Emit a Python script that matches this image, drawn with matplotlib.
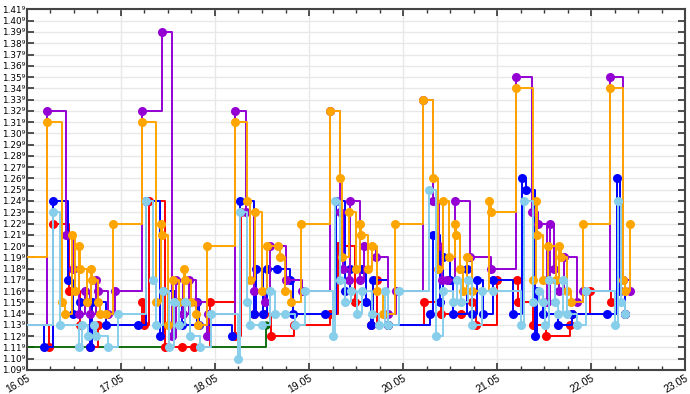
import matplotlib
matplotlib.use("Agg")
import matplotlib.pyplot as plt
import matplotlib.dates as mdates
from datetime import datetime, timedelta

# time in days (16.0 = 16.05 00:00), values
green_t = [15.9, 18.54, 18.57]
green_v = [1.11, 1.13, 1.13]

red_t = [15.9, 16.23, 16.28, 16.45, 16.56, 16.67, 16.76, 17.22, 17.24, 17.30, 17.47, 17.65, 17.78, 17.95,
         18.21, 18.28, 18.42, 18.52, 18.60, 18.84, 19.22, 19.31, 19.49, 19.66, 19.72, 19.84,
         20.22, 20.40, 20.62, 20.73, 20.78, 21.00, 21.21, 21.22, 21.38, 21.52, 21.78, 21.80, 21.99, 22.21, 22.36]
red_v = [1.13, 1.11, 1.22, 1.16, 1.13, 1.11, 1.13, 1.15, 1.13, 1.24, 1.11, 1.11, 1.11, 1.15,
         1.12, 1.23, 1.14, 1.14, 1.12, 1.13, 1.14, 1.20, 1.15, 1.13, 1.17, 1.13,
         1.15, 1.14, 1.14, 1.15, 1.13, 1.17, 1.17, 1.15, 1.13, 1.12, 1.13, 1.14, 1.16, 1.15, 1.14]

blue_t = [15.9, 16.18, 16.28, 16.44, 16.49, 16.56, 16.67, 16.69, 16.84, 17.18, 17.27, 17.42, 17.45, 17.58,
          17.65, 17.81, 17.83, 18.18, 18.27, 18.41, 18.44, 18.51, 18.55, 18.66, 18.80, 18.83,
          19.17, 19.29, 19.38, 19.44, 19.56, 19.61, 19.66, 19.68, 19.84,
          20.29, 20.32, 20.39, 20.43, 20.50, 20.53, 20.68, 20.73, 20.79, 20.85, 20.96,
          21.17, 21.27, 21.31, 21.40, 21.42, 21.49, 21.65, 21.80, 22.17, 22.27, 22.31, 22.36]
blue_v = [1.13, 1.11, 1.24, 1.17, 1.14, 1.15, 1.11, 1.15, 1.13, 1.13, 1.24, 1.12, 1.16, 1.15,
          1.13, 1.15, 1.13, 1.12, 1.24, 1.14, 1.18, 1.14, 1.18, 1.18, 1.17, 1.14,
          1.14, 1.24, 1.16, 1.18, 1.18, 1.15, 1.13, 1.17, 1.13,
          1.14, 1.21, 1.15, 1.19, 1.17, 1.14, 1.18, 1.14, 1.17, 1.14, 1.17,
          1.14, 1.26, 1.25, 1.12, 1.16, 1.14, 1.13, 1.14, 1.14, 1.26, 1.16, 1.14]

lightblue_t = [15.9, 16.28, 16.35, 16.55, 16.59, 16.65, 16.71, 16.73, 16.86, 16.97,
               17.27, 17.34, 17.37, 17.45, 17.51, 17.56, 17.62, 17.68, 17.73, 17.84, 17.96,
               18.25, 18.27, 18.34, 18.37, 18.50, 18.58, 18.64, 18.74, 18.85, 18.96,
               19.26, 19.28, 19.33, 19.38, 19.45, 19.51, 19.56, 19.67, 19.74, 19.81, 19.84, 19.96,
               20.28, 20.35, 20.43, 20.53, 20.57, 20.62, 20.69, 20.73, 20.84, 20.96,
               21.25, 21.29, 21.38, 21.45, 21.49, 21.51, 21.55, 21.62, 21.65, 21.70, 21.74, 21.85, 21.95,
               22.25, 22.29, 22.32, 22.36]
lightblue_v = [1.13, 1.23, 1.13, 1.11, 1.13, 1.12, 1.13, 1.12, 1.11, 1.14,
               1.24, 1.17, 1.13, 1.16, 1.11, 1.15, 1.13, 1.15, 1.12, 1.11, 1.14,
               1.10, 1.23, 1.15, 1.13, 1.13, 1.16, 1.14, 1.14, 1.13, 1.16,
               1.12, 1.24, 1.17, 1.15, 1.16, 1.14, 1.16, 1.14, 1.13, 1.16, 1.13, 1.16,
               1.25, 1.12, 1.16, 1.15, 1.17, 1.15, 1.17, 1.13, 1.16, 1.16,
               1.13, 1.24, 1.15, 1.16, 1.15, 1.13, 1.17, 1.15, 1.14, 1.17, 1.14, 1.13, 1.16,
               1.13, 1.24, 1.15, 1.14]

purple_t = [15.9, 16.21, 16.42, 16.49, 16.55, 16.62, 16.67, 16.73, 16.76, 16.86, 16.94,
            17.22, 17.44, 17.54, 17.59, 17.66, 17.72, 17.80, 17.92, 17.93,
            18.21, 18.33, 18.41, 18.53, 18.59, 18.76, 18.93,
            19.22, 19.33, 19.36, 19.42, 19.44, 19.54, 19.58, 19.71, 19.84, 19.93,
            20.21, 20.32, 20.38, 20.41, 20.47, 20.55, 20.71, 20.93,
            21.20, 21.37, 21.43, 21.53, 21.56, 21.61, 21.66, 21.71, 21.85, 21.91,
            22.20, 22.34, 22.41]
purple_v = [1.13, 1.32, 1.21, 1.18, 1.14, 1.16, 1.14, 1.17, 1.16, 1.14, 1.16,
            1.32, 1.39, 1.12, 1.17, 1.14, 1.17, 1.15, 1.12, 1.14,
            1.32, 1.23, 1.16, 1.15, 1.20, 1.17, 1.16,
            1.32, 1.23, 1.18, 1.17, 1.24, 1.17, 1.20, 1.19, 1.14, 1.16,
            1.33, 1.24, 1.20, 1.17, 1.17, 1.24, 1.19, 1.18,
            1.35, 1.23, 1.22, 1.15, 1.22, 1.18, 1.16, 1.19, 1.15, 1.16,
            1.35, 1.17, 1.16]

orange_t = [15.9, 16.21, 16.37, 16.40, 16.48, 16.51, 16.55, 16.56, 16.64, 16.68, 16.69, 16.76, 16.78, 16.84, 16.92,
            17.22, 17.37, 17.43, 17.44, 17.50, 17.55, 17.62, 17.67, 17.68, 17.74, 17.80, 17.82, 17.92,
            18.21, 18.34, 18.37, 18.43, 18.50, 18.55, 18.67, 18.69, 18.74, 18.81, 18.92,
            19.22, 19.33, 19.35, 19.42, 19.50, 19.54, 19.55, 19.63, 19.67, 19.72, 19.79, 19.91,
            20.21, 20.32, 20.37, 20.42, 20.49, 20.55, 20.56, 20.61, 20.64, 20.68, 20.73, 20.91, 20.93,
            21.20, 21.38, 21.41, 21.42, 21.49, 21.54, 21.63, 21.66, 21.68, 21.74, 21.79, 21.91,
            22.20, 22.34, 22.36, 22.41]
orange_v = [1.19, 1.31, 1.15, 1.14, 1.21, 1.16, 1.20, 1.18, 1.15, 1.18, 1.17, 1.15, 1.14, 1.14, 1.22,
            1.31, 1.15, 1.22, 1.21, 1.13, 1.17, 1.15, 1.18, 1.17, 1.15, 1.14, 1.13, 1.20,
            1.31, 1.24, 1.17, 1.23, 1.16, 1.20, 1.20, 1.19, 1.16, 1.15, 1.22,
            1.32, 1.26, 1.19, 1.23, 1.18, 1.22, 1.21, 1.18, 1.20, 1.16, 1.14, 1.22,
            1.33, 1.26, 1.18, 1.24, 1.19, 1.22, 1.21, 1.18, 1.16, 1.19, 1.16, 1.24, 1.23,
            1.34, 1.17, 1.24, 1.21, 1.17, 1.20, 1.17, 1.20, 1.19, 1.16, 1.15, 1.22,
            1.34, 1.17, 1.16, 1.22]

y_ticks = [round(1.09 + 0.01 * i, 2) for i in range(33)]

base = datetime(2024, 5, 16)


def to_dates(ts):
    return [base + timedelta(days=t - 16) for t in ts]


plt.rcParams['font.family'] = ['Liberation Sans', 'DejaVu Sans']
fig = plt.figure(figsize=(6.9, 3.94), dpi=100)
ax = fig.add_axes([0.039, 0.061, 0.954, 0.915])

ax.plot(to_dates(green_t), green_v, drawstyle='steps-post', color='#006400', lw=1.3,
        marker='o', ms=5, markevery=[1], zorder=2)
series = [
    (red_t, red_v, '#ff0000'),
    (blue_t, blue_v, '#0000ff'),
    (purple_t, purple_v, '#9400d3'),
    (orange_t, orange_v, '#ffa500'),
    (lightblue_t, lightblue_v, '#87ceeb'),
]
z = 3
for ts, vs, col in series:
    ax.plot(to_dates(ts), vs, drawstyle='steps-post', color=col, lw=1.4,
            marker='o', ms=6.5, markeredgewidth=0, zorder=z)
    z += 1

ax.set_xlim(datetime(2024, 5, 16), datetime(2024, 5, 23))
ax.set_ylim(1.09, 1.41)
ax.set_yticks(y_ticks)
ax.set_yticklabels(['%.2f\u2079' % y for y in y_ticks], fontsize=6.4, family=['DejaVu Sans'])
ax.xaxis.set_major_locator(mdates.DayLocator())
ax.xaxis.set_major_formatter(mdates.DateFormatter('%d.%m'))
ax.xaxis.set_minor_locator(mdates.HourLocator(byhour=[6, 12, 18]))
plt.setp(ax.get_xticklabels(), rotation=30, ha='right', rotation_mode='anchor', fontsize=7.5)

ax.grid(True, which='major', color='#e8e8e8', lw=1)
ax.set_axisbelow(True)
ax.tick_params(which='both', direction='in', top=True, right=True, colors='#333333', labelcolor='black')
ax.tick_params(which='major', length=5, width=1.2, pad=2)
ax.tick_params(axis='y', pad=1)
ax.tick_params(which='minor', length=3, width=1)
for s in ax.spines.values():
    s.set_color('#444444')
    s.set_linewidth(1.5)

fig.savefig('out.png', dpi=100)
